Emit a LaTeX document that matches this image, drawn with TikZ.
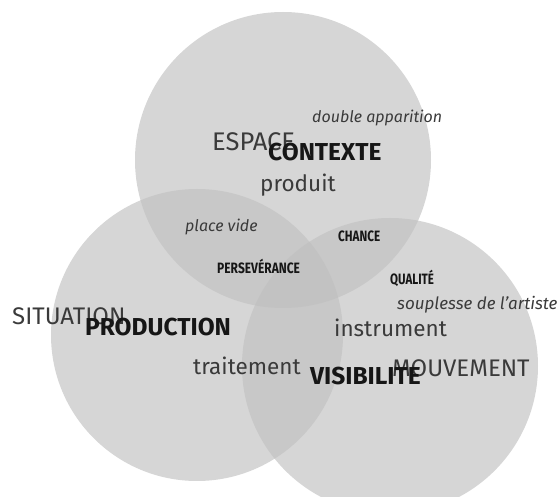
\documentclass[tikz,border=0pt]{standalone}
\usepackage{fontspec}
\setmainfont{Fira Sans}
\usetikzlibrary{positioning}
\definecolor{disc}{HTML}{D6D6D6}
\definecolor{lens}{HTML}{C8C8C8}
\definecolor{core}{HTML}{C2C2C2}
\definecolor{ink}{HTML}{3A3A3A}
\definecolor{inkdark}{HTML}{161616}

\begin{document}
\begin{tikzpicture}[x=1pt, y=-1pt,
  big/.style={anchor=base west, inner sep=0pt, text=ink,
              font=\fontsize{24}{26}\selectfont},
  mid/.style={big, font=\fontsize{22.5}{24}\selectfont},
  key/.style={anchor=base west, inner sep=0pt, text=inkdark,
              font=\fontsize{24.5}{26}\selectfont\bfseries},
  note/.style={anchor=base west, inner sep=0pt, text=ink,
               font=\fontsize{16}{18}\selectfont\itshape},
  tag/.style={anchor=base west, inner sep=0pt, text=inkdark,
              font=\fontsize{15}{17}\selectfont\bfseries}
]
\useasboundingbox (0,0) rectangle (558,497);
\coordinate (ctop) at (283,160);
\coordinate (cleft) at (197,335);
\coordinate (cright) at (390,366);
% the three discs and their overlaps
\fill[disc] (ctop) circle (148pt) (cleft) circle (146pt) (cright) circle (148pt);
\begin{scope}
  \clip (ctop) circle (148pt);
  \fill[lens] (cleft) circle (146pt) (cright) circle (148pt);
\end{scope}
\begin{scope}
  \clip (cleft) circle (146pt);
  \fill[lens] (cright) circle (148pt);
\end{scope}
\begin{scope}
  \clip (ctop) circle (148pt);
  \clip (cleft) circle (146pt);
  \fill[core] (cright) circle (148pt);
\end{scope}

% words
\node[note] (double) at (312,123) {double apparition};
\node[big, font=\fontsize{25.5}{27}\selectfont] (espace) at (212,151) {ESPACE};
\node[key] (contexte) at (268,161) {CONTEXTE};
\node[mid] (produit) at (260,192) {produit};
\node[note] (placevide) at (185,232) {place vide};
\node[tag] (chance) at (338,242) {\scalebox{0.78}[1]{CHANCE}};
\node[tag] (perseverance) at (217,274) {\scalebox{0.8}[1]{PERSEVÉRANCE}};
\node[tag] (qualite) at (390,285) {\scalebox{0.77}[1]{QUALITÉ}};
\node[note, font=\fontsize{17}{19}\selectfont\itshape] (souplesse) at (397,310) {souplesse de l’artiste};
\node[mid] (instrument) at (334,337) {instrument};
\node[big] (situation) at (12,325) {SITUATION};
\node[key] (production) at (85,336) {PRODUCTION};
\node[mid] (traitement) at (193,375) {traitement};
\node[big] (mouvement) at (392,377) {MOUVEMENT};
\node[key] (visibilite) at (310,385) {VISIBILITE};
\end{tikzpicture}
\end{document}
